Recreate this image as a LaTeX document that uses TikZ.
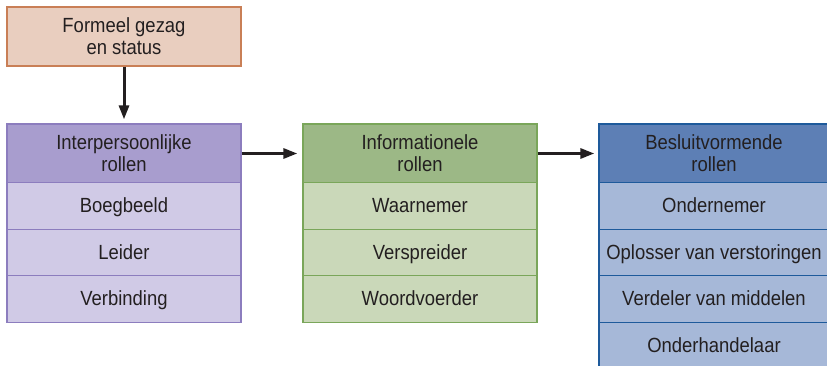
\documentclass[tikz,border=0pt]{standalone}
\usepackage{fontspec}
\setmainfont[FakeStretch=0.9]{Liberation Sans}
\usetikzlibrary{arrows.meta}
\definecolor{txt}{HTML}{231F20}
\definecolor{topfill}{HTML}{E9CEBF}
\definecolor{topdraw}{HTML}{C97F56}
\definecolor{phead}{HTML}{A89DCE}
\definecolor{prow}{HTML}{D0CAE6}
\definecolor{pdraw}{HTML}{8C7DBE}
\definecolor{ghead}{HTML}{9CB886}
\definecolor{grow}{HTML}{CAD8B9}
\definecolor{gdraw}{HTML}{7AA65A}
\definecolor{bhead}{HTML}{5D7FB5}
\definecolor{brow}{HTML}{A6B8D8}
\definecolor{bdraw}{HTML}{1E5A9B}
\tikzset{
  cell/.style={draw, line width=1.3pt, minimum width=234pt, inner sep=0pt, align=center,
    text=txt, font=\fontsize{20.5}{22}\selectfont},
  head/.style={cell, minimum height=59pt},
  row/.style={cell, minimum height=46.5pt, text height=13pt, text depth=0pt},
  bluecol/.style={minimum width=230pt},
  conn/.style={line width=3pt, draw=txt, -{Triangle[length=14pt,width=10pt]}},
}
\begin{document}
\begin{tikzpicture}[x=1pt,y=-1pt]
\useasboundingbox (0,0) rectangle (827,366);
\clip (0,0) rectangle (827,366);
% top
\node[cell, fill=topfill, draw=topdraw, minimum height=59pt] (fg) at (124,36.5) {Formeel gezag\\en status};
% purple
\node[head, fill=phead, draw=pdraw] (p0) at (124,153.5) {Interpersoonlijke\\rollen};
\node[row, fill=prow, draw=pdraw] (p1) at (124,206) {Boegbeeld};
\node[row, fill=prow, draw=pdraw] (p2) at (124,252.5) {Leider};
\node[row, fill=prow, draw=pdraw] (p3) at (124,299) {Verbinding};
% green
\node[head, fill=ghead, draw=gdraw] (g0) at (420,153.5) {Informationele\\rollen};
\node[row, fill=grow, draw=gdraw] (g1) at (420,206) {Waarnemer};
\node[row, fill=grow, draw=gdraw] (g2) at (420,252.5) {Verspreider};
\node[row, fill=grow, draw=gdraw] (g3) at (420,299) {Woordvoerder};
% blue
\node[head, bluecol, fill=bhead, draw=bdraw] (b0) at (714,153.5) {Besluitvormende\\rollen};
\node[row, bluecol, fill=brow, draw=bdraw] (b1) at (714,206) {Ondernemer};
\node[row, bluecol, fill=brow, draw=bdraw] (b2) at (714,252.5) {Oplosser van verstoringen};
\node[row, bluecol, fill=brow, draw=bdraw] (b3) at (714,299) {Verdeler van middelen};
\node[row, bluecol, fill=brow, draw=bdraw] (b4) at (714,345.5) {Onderhandelaar};
% connectors
\draw[conn, shorten >=4pt] (fg.south) -- (p0.north);
\draw[conn, shorten >=5pt] (p0.east) -- (g0.west);
\draw[conn, shorten >=4pt] (g0.east) -- (b0.west);
\end{tikzpicture}
\end{document}
